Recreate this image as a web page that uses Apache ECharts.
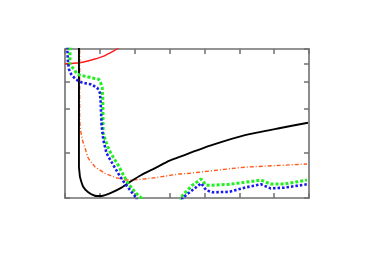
<!DOCTYPE html>
<html><head><meta charset="utf-8">
<script src="https://cdn.jsdelivr.net/npm/echarts@6/dist/echarts.min.js"></script>
<style>html,body{margin:0;padding:0;background:#fff}#c{width:375px;height:263px}</style>
</head><body><div id="c"></div>
<script>
// x ticks: 0..7 ; y: log scale 1..10, ticks at 2,4,6,8
const xTicks = [0,1,2,3,4,5,6,7];
const yTicks = [2,4,6,8];

const redX   = [0,0.257,0.543,0.829,1.114,1.4,1.543,1.714];
const redY   = [7.97,8.02,8.18,8.53,8.97,9.70,10.2,11.0];

const blackX = [0.4,0.4,0.414,0.429,0.523,0.666,0.857,1.049,1.334,1.62,1.906,2.191,2.571,3.0,3.286,3.571,4.229,5.19,6.143,6.97];
const blackY = [30,1.62,1.50,1.39,1.19,1.092,1.036,1.031,1.085,1.173,1.30,1.427,1.58,1.78,1.885,2.0,2.27,2.65,2.94,3.20];

const orangeX = [0.42,0.42,0.443,0.5,0.666,0.857,1.143,1.429,1.714,1.906,2.191,2.571,3.286,3.571,5.143,6.943];
const orangeY = [30,3.34,2.86,2.45,1.85,1.62,1.465,1.377,1.32,1.32,1.335,1.368,1.45,1.465,1.61,1.69];

const greenX = [0.143,0.143,0.143,0.257,0.351,0.543,0.829,0.971,1.02,1.066,1.086,1.094,1.157,1.229,1.314,1.414,1.523,1.657,1.809,2.0,2.191,2.35,3.2,3.33,3.37,3.657,3.906,4.048,4.229,4.714,5.17,5.62,5.9,6.286,6.943];
const greenY = [12,10,7.89,7.31,6.76,6.59,6.36,6.26,5.94,5.50,4.55,2.73,2.45,2.20,2.00,1.83,1.666,1.45,1.255,1.10,1.0,0.6,0.6,1.0,1.04,1.22,1.34,1.22,1.22,1.236,1.275,1.32,1.24,1.24,1.32];

const blueX = [0.06,0.066,0.086,0.114,0.18,0.306,0.494,0.734,0.923,1.0,1.02,1.049,1.1,1.191,1.3,1.429,1.571,1.714,1.906,2.049,2.2,3.2,3.371,3.657,3.906,4.048,4.229,4.714,5.17,5.62,5.9,6.286,6.943];
const blueY = [12,10,8.09,7.31,6.76,6.26,5.94,5.80,5.50,5.09,4.55,3.09,2.45,2.0,1.80,1.60,1.405,1.255,1.10,1.0,0.6,0.6,1.0,1.13,1.255,1.13,1.092,1.10,1.176,1.236,1.16,1.173,1.236];

const zip = (xs, ys) => xs.map((x, i) => [x, ys[i]]);

const axisCol = '#707070';
const lineStyleAxis = {color: axisCol, width: 1.6};
const tickStyle = {show: true, inside: true, length: 5, lineStyle: {color: axisCol, width: 1.5}};

function xAx(pos) {
  return {type: 'value', position: pos, min: xTicks[0], max: xTicks[xTicks.length-1], interval: 1,
    axisLine: {show: true, onZero: false, lineStyle: lineStyleAxis},
    axisTick: tickStyle, axisLabel: {show: false}, splitLine: {show: false}};
}
function yAx(pos, base, showLine) {
  return {type: 'log', logBase: base, position: pos, min: 1, max: 10,
    axisLine: {show: showLine, onZero: false, lineStyle: lineStyleAxis},
    axisTick: tickStyle, axisLabel: {show: false}, splitLine: {show: false}};
}

const chart = echarts.init(document.getElementById('c'), null, {renderer: 'canvas'});
chart.setOption({
  animation: false,
  backgroundColor: '#fff',
  grid: {left: 65, top: 49, right: 66, bottom: 65, containLabel: false},
  xAxis: [xAx('bottom'), xAx('top')],
  yAxis: [yAx('left', 2, true), yAx('left', 6, false), yAx('right', 2, true), yAx('right', 6, false)],
  series: [
    {type: 'line', data: zip(redX, redY), showSymbol: false, symbol: 'none', smooth: 0.2, clip: true,
     lineStyle: {color: '#ff1a1a', width: 1.4}},
    {type: 'line', data: zip(orangeX, orangeY), showSymbol: false, symbol: 'none', smooth: false, clip: true,
     lineStyle: {color: '#ff5a1a', width: 1.4, type: [4,2,1,2]}},
    {type: 'line', data: zip(blackX, blackY), showSymbol: false, symbol: 'none', smooth: 0.15, clip: true,
     lineStyle: {color: '#000', width: 1.9}},
    {type: 'line', data: zip(greenX, greenY), showSymbol: false, symbol: 'none', smooth: false, clip: true,
     lineStyle: {color: '#22ee22', width: 3, type: [3,2]}},
    {type: 'line', data: zip(blueX, blueY), showSymbol: false, symbol: 'none', smooth: false, clip: true,
     lineStyle: {color: '#1a1aee', width: 2.6, type: [2.5,2]}}
  ]
});
</script></body></html>
